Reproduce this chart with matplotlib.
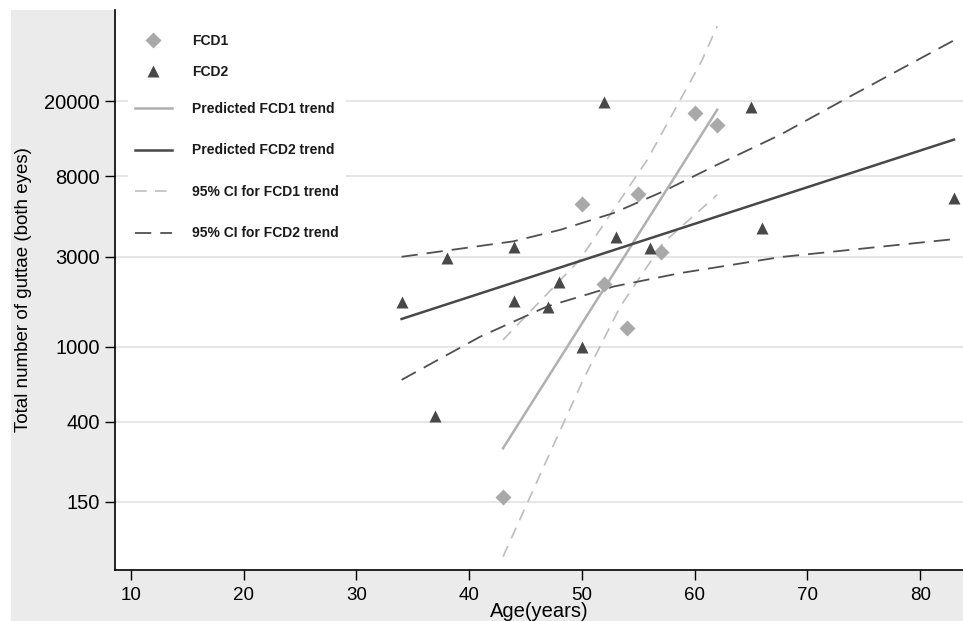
import numpy as np
import matplotlib.pyplot as plt
from matplotlib.lines import Line2D
from matplotlib.patches import Rectangle

plt.rcParams['font.family'] = ['Liberation Sans', 'DejaVu Sans']

# observed points
fcd1_age = [43, 50, 52, 54, 55, 57, 60, 62]
fcd1_count = [160, 5700, 2150, 1250, 6400, 3170, 17300, 14900]
fcd2_age = [34, 37, 38, 44, 44, 47, 48, 50, 52, 53, 56, 65, 66, 83]
fcd2_count = [1730, 430, 2940, 3390, 1750, 1630, 2190, 990, 19700, 3790, 3310, 18500, 4250, 6130]

# predicted trends
fcd1_trend_age = [43, 62]
fcd1_trend = [289, 18000]
fcd2_trend_age = [34, 83]
fcd2_trend = [1400, 12500]

# 95% CI bands
fcd1_ci_hi_age = [43, 49.8, 55.8, 60.6, 62]
fcd1_ci_hi = [1085, 2880, 9790, 32500, 49900]
fcd1_ci_lo_age = [43, 50.1, 53.4, 57.2, 62]
fcd1_ci_lo = [77, 666, 1630, 3540, 6380]
fcd2_ci_hi_age = [34, 43.9, 48.1, 52.8, 57.2, 61.7, 67.6, 73.8, 83]
fcd2_ci_hi = [2990, 3610, 4160, 5100, 6640, 9020, 13270, 21200, 42000]
fcd2_ci_lo_age = [34, 41, 46.9, 52.8, 58.7, 67.6, 83]
fcd2_ci_lo = [666, 1130, 1630, 2080, 2450, 2980, 3710]

yticks = [150, 400, 1000, 3000, 8000, 20000]
xticks = [10, 20, 30, 40, 50, 60, 70, 80]

c1 = '#a9a9a9'
c2 = '#484848'

fig = plt.figure(figsize=(9.63, 6.21), dpi=100, facecolor='white')
fig.patches.append(Rectangle((11 / 963, 0), 1, 1 - 10 / 621, transform=fig.transFigure,
                             facecolor='#ebebeb', edgecolor='none', zorder=-10))
ax = fig.add_axes([115 / 963, 1 - 570 / 621, 1 - 115 / 963, 560 / 621])
ax.set_facecolor('white')

ax.set_yscale('log')
ax.set_xlim(8.58, 83.8)
ax.set_ylim(65.4, 60800)
ax.set_yticks(yticks)
ax.set_yticklabels([str(v) for v in yticks])
ax.minorticks_off()
ax.set_xticks(xticks)
ax.grid(axis='y', color='#e4e4e4', linewidth=1.3)
ax.set_axisbelow(True)

for s in ['top', 'right']:
    ax.spines[s].set_visible(False)
for s in ['left', 'bottom']:
    ax.spines[s].set_linewidth(1.2)
ax.tick_params(axis='y', length=7.5, width=1, pad=3.5, labelsize=14.5)
ax.tick_params(axis='x', length=7, width=1, pad=5, labelsize=13.5)

ax.plot(fcd1_ci_hi_age, fcd1_ci_hi, color='#bdbdbd', lw=1.2, dashes=(7, 5))
ax.plot(fcd1_ci_lo_age, fcd1_ci_lo, color='#bdbdbd', lw=1.2, dashes=(7, 5))
ax.plot(fcd2_ci_hi_age, fcd2_ci_hi, color='#505050', lw=1.3, dashes=(9, 5))
ax.plot(fcd2_ci_lo_age, fcd2_ci_lo, color='#505050', lw=1.3, dashes=(9, 5))
ax.plot(fcd1_trend_age, fcd1_trend, color='#b0b0b0', lw=1.8)
ax.plot(fcd2_trend_age, fcd2_trend, color='#484848', lw=1.8)
ax.plot(fcd1_age, fcd1_count, 'D', color=c1, ms=8.5, mec='none', clip_on=False)
ax.plot(fcd2_age, fcd2_count, '^', color=c2, ms=8.5, mec='none', clip_on=False)

ax.set_xlabel('Age(years)', fontsize=14.5, labelpad=-1)
ax.set_ylabel('Total number of guttae (both eyes)', fontsize=13.5, labelpad=9)

h_pts = [Line2D([], [], ls='none', marker='D', color=c1, ms=8.5, mec='none'),
         Line2D([], [], ls='none', marker='^', color=c2, ms=8.5, mec='none')]
h_lines = [Line2D([], [], color='#b0b0b0', lw=1.8),
           Line2D([], [], color='#484848', lw=1.8),
           Line2D([], [], color='#bdbdbd', lw=1.2, dashes=(7, 5)),
           Line2D([], [], color='#505050', lw=1.3, dashes=(9, 5))]

leg_kw = dict(loc='upper left', bbox_transform=fig.transFigure, frameon=True,
              fancybox=False, facecolor='white', edgecolor='none', framealpha=1,
              prop={'size': 10, 'weight': 'bold'}, handlelength=2.66,
              handletextpad=1.44, borderpad=0.5, borderaxespad=0)
leg1 = ax.legend(h_pts, ['FCD1', 'FCD2'], bbox_to_anchor=(128 / 963, 1 - 27 / 621),
                 labelspacing=1.22, **leg_kw)
ax.add_artist(leg1)
leg2 = ax.legend(h_lines, ['Predicted FCD1 trend', 'Predicted FCD2 trend',
                           '95% CI for FCD1 trend', '95% CI for FCD2 trend'],
                 bbox_to_anchor=(128 / 963, 1 - 95 / 621), labelspacing=1.98, **leg_kw)
for t in leg1.get_texts() + leg2.get_texts():
    t.set_color('#1a1a1a')

fig.savefig('out.png', dpi=100, facecolor=fig.get_facecolor())
